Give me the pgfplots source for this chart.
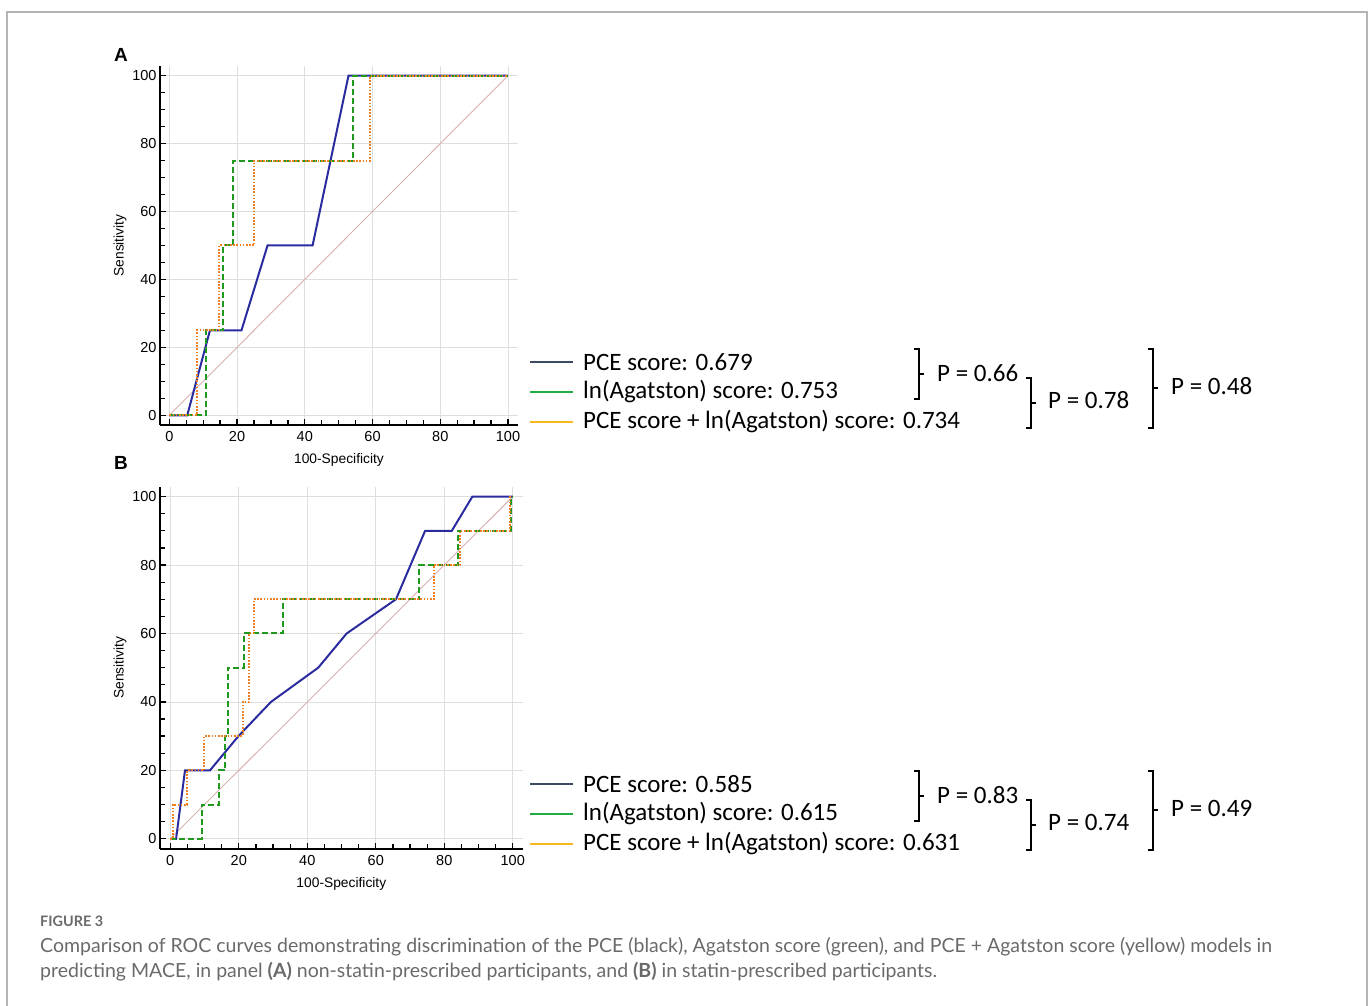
\documentclass[border=0pt]{standalone}
\usepackage{fontspec}
\setmainfont{Liberation Sans}
\newfontfamily\calfont{Carlito}
\newfontfamily\latofont{Lato}
\usepackage{pgfplots}
\pgfplotsset{compat=1.18}
\definecolor{pceblue}{HTML}{2B2BA0}
\definecolor{aggreen}{HTML}{1F9A1F}
\definecolor{combor}{HTML}{F07F20}
\definecolor{diagc}{HTML}{D8B0B0}
\definecolor{gridgray}{HTML}{DEDEDE}
\definecolor{legpce}{HTML}{3C4A64}
\definecolor{legag}{HTML}{22AA44}
\definecolor{legcomb}{HTML}{F5B820}
\definecolor{framec}{HTML}{B4B4B4}
\definecolor{capc}{HTML}{6A6A6A}
\pgfplotsset{rocstyle/.style={
  scale only axis,
  axis x line*=bottom, axis y line*=left,
  axis line style={line width=2.2pt,-},
  xtick={0,20,...,100}, ytick={0,20,...,100},
  minor x tick num=3, minor y tick num=3,
  tick align=inside,
  major tick length=6pt, minor tick length=5pt,
  tick style={black,line width=1.3pt},
  grid=major, major grid style={gridgray,line width=0.8pt},
  ticklabel style={font=\fontsize{14.5}{16}\selectfont},
  xticklabel style={yshift=-3pt},
  /pgf/number format/assume math mode=true,
  label style={font=\fontsize{13.8}{16}\selectfont},
  xlabel={100-Specificity}, ylabel={Sensitivity},
  xlabel style={yshift=-5pt},
  ylabel style={yshift=-1pt},
}}
\begin{document}
\begin{tikzpicture}
\path[use as bounding box] (0,0) rectangle (1370pt,1006pt);
\draw[framec,line width=1.3pt] (7pt,0pt) -- (7pt,994pt) -- (1367pt,994pt) -- (1367pt,0pt);
% Panel A
\begin{axis}[rocstyle, at={(160pt,581pt)}, anchor=south west,
  width=358pt, height=359pt,
  xmin=-2.75, xmax=102.95, ymin=-2.86, ymax=102.85]
\addplot[diagc,line width=0.9pt] coordinates {(0,0)(100,100)};
\addplot[pceblue,line width=2pt] coordinates {(0,0)(5.3,0)(12,25)(21.3,25)(29,50)(42.3,50)(52.9,100)(100,100)};
\addplot[aggreen,line width=2pt,dash pattern=on 6pt off 3pt] coordinates {(0,0)(10.8,0)(10.8,25)(15.9,25)(15.9,50)(18.7,50)(18.7,75)(54.1,75)(54.1,100)(100,100)};
\addplot[combor,line width=2pt,dash pattern=on 1.6pt off 1.6pt] coordinates {(0,0)(8.1,0)(8.1,25)(14.7,25)(14.7,50)(25.1,50)(25.1,75)(59.3,75)(59.3,100)(100,100)};
\end{axis}
% Panel B
\begin{axis}[rocstyle, at={(160pt,157.3pt)}, anchor=south west,
  width=362.7pt, height=362pt,
  xmin=-3.0, xmax=102.9, ymin=-2.9, ymax=102.9]
\addplot[diagc,line width=0.9pt] coordinates {(0,0)(100,100)};
\addplot[pceblue,line width=2pt] coordinates {(0,0)(1.7,0)(4.3,20)(11.6,20)(19.9,30)(29.4,40)(43.2,50)(51.5,60)(65.9,70)(74.4,90)(82.2,90)(88.2,100)(100,100)};
\addplot[aggreen,line width=2pt,dash pattern=on 6pt off 3pt] coordinates {(0,0)(9.2,0)(9.2,10)(14.3,10)(14.3,20)(16.1,20)(16.1,30)(16.8,30)(16.8,50)(21.5,50)(21.5,60)(32.8,60)(32.8,70)(72.7,70)(72.7,80)(83.9,80)(83.9,90)(99.6,90)(99.6,100)(100,100)};
\addplot[combor,line width=2pt,dash pattern=on 1.6pt off 1.6pt] coordinates {(0,0)(0.7,0)(0.7,10)(5,10)(5,20)(9.9,20)(9.9,30)(21.1,30)(21.1,40)(23,40)(23,60)(24.4,60)(24.4,70)(77,70)(77,80)(84.6,80)(84.6,90)(99.2,90)(99.2,100)(100,100)};
\end{axis}
% panel letters
\node at (121pt,951pt) {\fontsize{19}{20}\selectfont\bfseries A};
\node at (121pt,543pt) {\fontsize{19}{20}\selectfont\bfseries B};
% legends
\foreach \dy/\a/\b/\c/\pa/\pb/\pc in {0/0.679/0.753/0.734/0.66/0.78/0.48, 422/0.585/0.615/0.631/0.83/0.74/0.49}{
  \draw[legpce,line width=2pt] (530pt,644pt-\dy pt) -- (573pt,644pt-\dy pt);
  \draw[legag,line width=2pt] (530pt,614pt-\dy pt) -- (573pt,614pt-\dy pt);
  \draw[legcomb,line width=2pt] (530pt,584pt-\dy pt) -- (573pt,584pt-\dy pt);
  \node[anchor=west,inner sep=0pt] at (583pt,644pt-\dy pt) {\calfont\fontsize{25}{28}\selectfont PCE score: \a};
  \node[anchor=west,inner sep=0pt] at (583pt,614pt-\dy pt) {\calfont\fontsize{25}{28}\selectfont ln(Agatston) score: \b};
  \node[anchor=west,inner sep=0pt] at (583pt,584pt-\dy pt) {\calfont\fontsize{25}{28}\selectfont PCE score + ln(Agatston) score: \c};
  \draw[line width=2pt] (914pt,657pt-\dy pt) -- (919pt,657pt-\dy pt) -- (919pt,607pt-\dy pt) -- (914pt,607pt-\dy pt);
  \draw[line width=2pt] (919pt,632pt-\dy pt) -- (924pt,632pt-\dy pt);
  \node[anchor=west,inner sep=0pt] at (937pt,633pt-\dy pt) {\calfont\fontsize{25}{28}\selectfont P = \pa};
  \draw[line width=2pt] (1026pt,628pt-\dy pt) -- (1031pt,628pt-\dy pt) -- (1031pt,578pt-\dy pt) -- (1026pt,578pt-\dy pt);
  \draw[line width=2pt] (1031pt,603pt-\dy pt) -- (1036pt,603pt-\dy pt);
  \node[anchor=west,inner sep=0pt] at (1048pt,606pt-\dy pt) {\calfont\fontsize{25}{28}\selectfont P = \pb};
  \draw[line width=2pt] (1148pt,657pt-\dy pt) -- (1153pt,657pt-\dy pt) -- (1153pt,578pt-\dy pt) -- (1148pt,578pt-\dy pt);
  \draw[line width=2pt] (1153pt,618pt-\dy pt) -- (1158pt,618pt-\dy pt);
  \node[anchor=west,inner sep=0pt] at (1171pt,620pt-\dy pt) {\calfont\fontsize{25}{28}\selectfont P = \pc};
}
% caption
\node[anchor=base west,inner sep=0pt,text=capc] at (40pt,79pt) {\latofont\bfseries\fontsize{14.4}{16}\selectfont FIGURE 3};
\node[anchor=base west,inner sep=0pt,text=capc] at (40pt,53pt) {\latofont\fontsize{19.5}{22}\selectfont Comparison of ROC curves demonstrating discrimination of the PCE (black), Agatston score (green), and PCE + Agatston score (yellow) models in};
\node[anchor=base west,inner sep=0pt,text=capc] at (40pt,28pt) {\latofont\fontsize{19.5}{22}\selectfont predicting MACE, in panel \textbf{(A)} non-statin-prescribed participants, and \textbf{(B)} in statin-prescribed participants.};
\end{tikzpicture}
\end{document}
